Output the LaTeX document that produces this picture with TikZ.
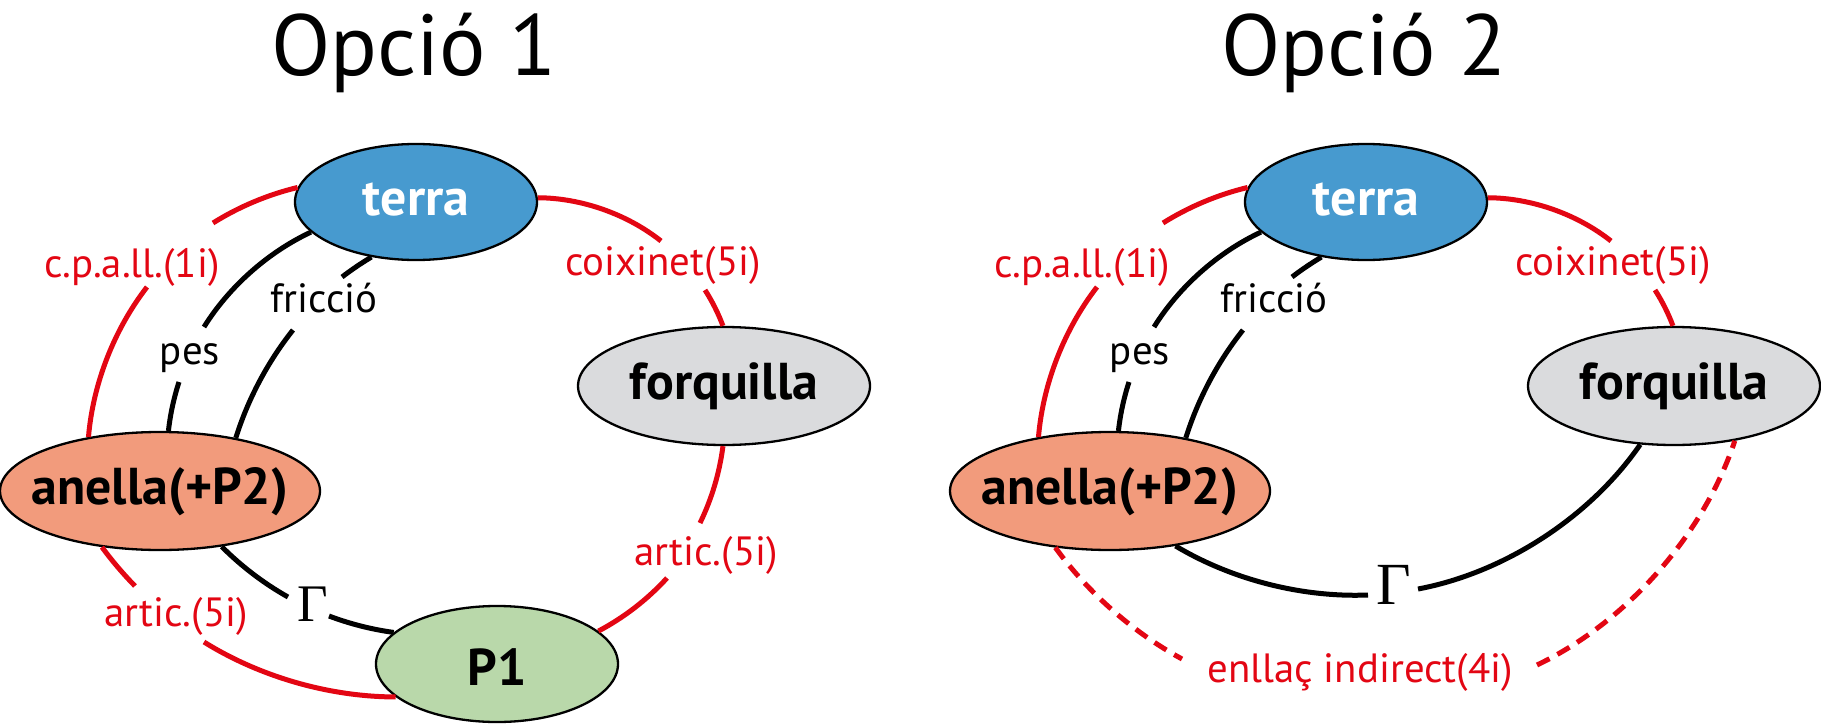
\documentclass[tikz,border=0pt]{standalone}
\usepackage{fontspec}
\setmainfont{PT Sans}
\newfontfamily\serifgam{Liberation Serif}
\usetikzlibrary{shapes.geometric}
\definecolor{lred}{RGB}{227,6,19}
\definecolor{tblue}{RGB}{71,154,207}
\definecolor{aorange}{RGB}{242,155,124}
\definecolor{pgreen}{RGB}{185,216,170}
\definecolor{fgray}{RGB}{218,219,221}
\newcommand{\zb}[1]{\makebox[0pt]{#1}}
\begin{document}
\begin{tikzpicture}[x=1bp,y=-1bp,
  body/.style={ellipse, draw=black, line width=2.3bp, inner sep=0pt,
    font=\fontsize{52}{60}\selectfont\bfseries, text height=27bp, text depth=0pt},
  lbl/.style={font=\fontsize{41}{48}\selectfont, anchor=base, inner sep=0pt},
  redlbl/.style={lbl, text=lred},
  redl/.style={draw=lred, line width=5bp, looseness=0.85},
  blkl/.style={draw=black, line width=5bp, looseness=0.85},
  dashl/.style={redl, dash pattern=on 14bp off 9bp},
  ttl/.style={font=\fontsize{87}{96}\selectfont, anchor=base, inner sep=0pt},
  gam/.style={anchor=base, inner sep=0pt}]
\fill[white] (0,0) rectangle (1821,724);
\useasboundingbox (0,0) rectangle (1821,724);

\node[ttl] (t1) at (414,76) {Opció 1};
\node[ttl] (t2) at (1364,76) {Opció 2};

\foreach \s/\dx in {L/0,R/950} {
\begin{scope}[shift={(\dx,0)}]
  \node[body, fill=tblue, text=white, minimum width=242bp, minimum height=116bp] (terra\s) at (416,202) {\zb{terra}};
  \node[body, fill=fgray, minimum width=292bp, minimum height=118bp] (forq\s) at (724,386) {\zb{forquilla}};
  \node[body, fill=aorange, minimum width=320bp, minimum height=118bp] (anella\s) at (160,491) {\zb{anella(+P2)}};
  \coordinate (cpA\s) at (213,223);
  \coordinate (cpB\s) at (147,287);
  \coordinate (coA\s) at (661,241);
  \coordinate (coB\s) at (705,290);
  \coordinate (peA\s) at (204,327);
  \coordinate (peB\s) at (179,382);
  \coordinate (frA\s) at (342,277);
  \coordinate (frB\s) at (293,330);
  \node[redlbl] (lcp\s) at (132,277) {c.p.a.ll.(1i)};
  \node[redlbl] (lco\s) at (663,275) {coixinet(5i)};
  \node[lbl] (lfr\s) at (324,312) {fricció};
  \node[lbl] (lpe\s) at (190,364) {pes};
  \draw[redl] (terra\s.173) to[bend right=9.3] (cpA\s);
  \draw[redl] (cpB\s) to[bend right=16.5] (anella\s.143);
  \draw[redl] (terra\s.2) to[bend left=19.1] (coA\s);
  \draw[redl] (coB\s) to[bend left=6] (forq\s.91);
  \draw[blkl] (terra\s.196) to[bend right=16.5] (peA\s);
  \draw[blkl] (peB\s) to[bend right=5.9] (anella\s.82);
  \draw[blkl] (terra\s.231) to[bend right=3.2] (frA\s);
  \draw[blkl] (frB\s) to[bend right=10.6] (anella\s.35);
\end{scope}
}

% left only
\node[body, fill=pgreen, minimum width=242bp, minimum height=116bp, text height=42bp] (p1) at (497,664) {\zb{P1}};
\coordinate (arA) at (700,523);
\coordinate (arB) at (667,578);
\coordinate (alA) at (135,586);
\coordinate (alB) at (204,642);
\coordinate (gaA) at (288,597);
\coordinate (gaB) at (329,616);
\node[redlbl] (lar) at (706,565) {artic.(5i)};
\node[redlbl] (lal) at (176,626) {artic.(5i)};
\node[gam, font=\serifgam\fontsize{53}{60}\selectfont] (lgL) at (313,621) {Γ};
\draw[redl] (forqL.269) to[bend left=9.4] (arA);
\draw[redl] (arB) to[bend left=10] (p1.18);
\draw[redl] (anellaL.224) to[bend right=4] (alA);
\draw[redl] (alB) to[bend right=15.9] (p1.198);
\draw[blkl] (anellaL.318) to[bend right=7.9] (gaA);
\draw[blkl] (gaB) to[bend right=6.5] (p1.163);

% right only
\coordinate (grA) at (1368,595);
\coordinate (grB) at (1418,589);
\coordinate (enA) at (1182,659);
\coordinate (enB) at (1537,665);
\node[redlbl] (len) at (1360,682) {enllaç indirect(4i)};
\node[gam, font=\serifgam\fontsize{60}{66}\selectfont] (lgR) at (1394,604) {Γ};
\draw[blkl] (anellaR.320) to[bend right=16.6] (grA);
\draw[blkl] (grB) to[bend right=22.4] (forqR.240);
\draw[dashl] (anellaR.226) to[bend right=12.7] (enA);
\draw[dashl] (enB) to[bend right=23] (forqR.318);
\end{tikzpicture}
\end{document}
